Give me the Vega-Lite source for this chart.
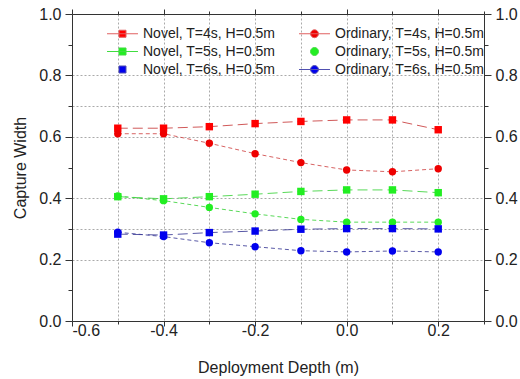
{
  "$schema": "https://vega.github.io/schema/vega-lite/v6.json",
  "width": 412,
  "height": 307,
  "autosize": {"type": "none"},
  "padding": {"left": 72, "top": 14, "right": 36, "bottom": 58},
  "background": "white",
  "config": {
    "view": {"stroke": null},
    "font": "Liberation Sans",
    "axis": {
      "labelFont": "Liberation Sans",
      "titleFont": "Liberation Sans",
      "labelFontSize": 16,
      "titleFontSize": 16,
      "titleFontWeight": "normal",
      "labelColor": "#222",
      "titleColor": "#222",
      "domainColor": "#333",
      "tickColor": "#333",
      "domainWidth": 1,
      "tickWidth": 1
    }
  },
  "data": {
    "values": [
      {"x": -0.5, "y": 0.628, "series": "Novel, T=4s, H=0.5m", "type": "Novel"},
      {"x": -0.4, "y": 0.628, "series": "Novel, T=4s, H=0.5m", "type": "Novel"},
      {"x": -0.3, "y": 0.633, "series": "Novel, T=4s, H=0.5m", "type": "Novel"},
      {"x": -0.2, "y": 0.643, "series": "Novel, T=4s, H=0.5m", "type": "Novel"},
      {"x": -0.1, "y": 0.650, "series": "Novel, T=4s, H=0.5m", "type": "Novel"},
      {"x": 0.0, "y": 0.655, "series": "Novel, T=4s, H=0.5m", "type": "Novel"},
      {"x": 0.1, "y": 0.655, "series": "Novel, T=4s, H=0.5m", "type": "Novel"},
      {"x": 0.2, "y": 0.623, "series": "Novel, T=4s, H=0.5m", "type": "Novel"},
      {"x": -0.5, "y": 0.610, "series": "Ordinary, T=4s, H=0.5m", "type": "Ordinary"},
      {"x": -0.4, "y": 0.610, "series": "Ordinary, T=4s, H=0.5m", "type": "Ordinary"},
      {"x": -0.3, "y": 0.579, "series": "Ordinary, T=4s, H=0.5m", "type": "Ordinary"},
      {"x": -0.2, "y": 0.545, "series": "Ordinary, T=4s, H=0.5m", "type": "Ordinary"},
      {"x": -0.1, "y": 0.516, "series": "Ordinary, T=4s, H=0.5m", "type": "Ordinary"},
      {"x": 0.0, "y": 0.492, "series": "Ordinary, T=4s, H=0.5m", "type": "Ordinary"},
      {"x": 0.1, "y": 0.486, "series": "Ordinary, T=4s, H=0.5m", "type": "Ordinary"},
      {"x": 0.2, "y": 0.496, "series": "Ordinary, T=4s, H=0.5m", "type": "Ordinary"},
      {"x": -0.5, "y": 0.405, "series": "Novel, T=5s, H=0.5m", "type": "Novel"},
      {"x": -0.4, "y": 0.398, "series": "Novel, T=5s, H=0.5m", "type": "Novel"},
      {"x": -0.3, "y": 0.405, "series": "Novel, T=5s, H=0.5m", "type": "Novel"},
      {"x": -0.2, "y": 0.413, "series": "Novel, T=5s, H=0.5m", "type": "Novel"},
      {"x": -0.1, "y": 0.422, "series": "Novel, T=5s, H=0.5m", "type": "Novel"},
      {"x": 0.0, "y": 0.427, "series": "Novel, T=5s, H=0.5m", "type": "Novel"},
      {"x": 0.1, "y": 0.427, "series": "Novel, T=5s, H=0.5m", "type": "Novel"},
      {"x": 0.2, "y": 0.418, "series": "Novel, T=5s, H=0.5m", "type": "Novel"},
      {"x": -0.5, "y": 0.407, "series": "Ordinary, T=5s, H=0.5m", "type": "Ordinary"},
      {"x": -0.4, "y": 0.392, "series": "Ordinary, T=5s, H=0.5m", "type": "Ordinary"},
      {"x": -0.3, "y": 0.370, "series": "Ordinary, T=5s, H=0.5m", "type": "Ordinary"},
      {"x": -0.2, "y": 0.349, "series": "Ordinary, T=5s, H=0.5m", "type": "Ordinary"},
      {"x": -0.1, "y": 0.331, "series": "Ordinary, T=5s, H=0.5m", "type": "Ordinary"},
      {"x": 0.0, "y": 0.322, "series": "Ordinary, T=5s, H=0.5m", "type": "Ordinary"},
      {"x": 0.1, "y": 0.322, "series": "Ordinary, T=5s, H=0.5m", "type": "Ordinary"},
      {"x": 0.2, "y": 0.322, "series": "Ordinary, T=5s, H=0.5m", "type": "Ordinary"},
      {"x": -0.5, "y": 0.283, "series": "Novel, T=6s, H=0.5m", "type": "Novel"},
      {"x": -0.4, "y": 0.280, "series": "Novel, T=6s, H=0.5m", "type": "Novel"},
      {"x": -0.3, "y": 0.288, "series": "Novel, T=6s, H=0.5m", "type": "Novel"},
      {"x": -0.2, "y": 0.293, "series": "Novel, T=6s, H=0.5m", "type": "Novel"},
      {"x": -0.1, "y": 0.299, "series": "Novel, T=6s, H=0.5m", "type": "Novel"},
      {"x": 0.0, "y": 0.301, "series": "Novel, T=6s, H=0.5m", "type": "Novel"},
      {"x": 0.1, "y": 0.301, "series": "Novel, T=6s, H=0.5m", "type": "Novel"},
      {"x": 0.2, "y": 0.300, "series": "Novel, T=6s, H=0.5m", "type": "Novel"},
      {"x": -0.5, "y": 0.289, "series": "Ordinary, T=6s, H=0.5m", "type": "Ordinary"},
      {"x": -0.4, "y": 0.275, "series": "Ordinary, T=6s, H=0.5m", "type": "Ordinary"},
      {"x": -0.3, "y": 0.255, "series": "Ordinary, T=6s, H=0.5m", "type": "Ordinary"},
      {"x": -0.2, "y": 0.242, "series": "Ordinary, T=6s, H=0.5m", "type": "Ordinary"},
      {"x": -0.1, "y": 0.229, "series": "Ordinary, T=6s, H=0.5m", "type": "Ordinary"},
      {"x": 0.0, "y": 0.225, "series": "Ordinary, T=6s, H=0.5m", "type": "Ordinary"},
      {"x": 0.1, "y": 0.228, "series": "Ordinary, T=6s, H=0.5m", "type": "Ordinary"},
      {"x": 0.2, "y": 0.225, "series": "Ordinary, T=6s, H=0.5m", "type": "Ordinary"}
    ]
  },
  "layer": [
    {
      "mark": {"type": "line", "strokeWidth": 1, "opacity": 0.85},
      "encoding": {
        "x": {
          "field": "x", "type": "quantitative",
          "scale": {"domain": [-0.6, 0.3], "nice": false, "zero": false},
          "axis": {
            "orient": "bottom",
            "title": "Deployment Depth (m)",
            "titlePadding": 21,
            "values": [-0.6, -0.5, -0.4, -0.3, -0.2, -0.1, 0, 0.1, 0.2, 0.3],
            "labelExpr": "round(datum.value*10)%2==0 ? replace(format(datum.value,'.1f'),'\u2212','-') : ''",
            "tickSize": {"condition": {"test": "round(datum.value*10)%2==0", "value": 5}, "value": 3},
            "labelPadding": -4,
            "grid": true,
            "gridDash": [2, 2],
            "gridColor": "#aaaaaa",
            "gridOpacity": {"condition": {"test": "abs(round(datum.value*10))==6 || round(datum.value*10)==3", "value": 0}, "value": 1}
          }
        },
        "y": {
          "field": "y", "type": "quantitative",
          "scale": {"domain": [0, 1], "nice": false},
          "axis": {
            "orient": "left",
            "title": "Capture Width",
            "titlePadding": 10,
            "values": [0, 0.1, 0.2, 0.3, 0.4, 0.5, 0.6, 0.7, 0.8, 0.9, 1.0],
            "labelExpr": "round(datum.value*10)%2==0 ? format(datum.value,'.1f') : ''",
            "tickSize": {"condition": {"test": "round(datum.value*10)%2==0", "value": 7}, "value": 4},
            "labelPadding": 4,
            "grid": true,
            "gridDash": [2, 2],
            "gridColor": "#aaaaaa",
            "gridOpacity": {"condition": {"test": "round(datum.value*10)==2 || round(datum.value*10)==3 || round(datum.value*10)==4 || round(datum.value*10)==6 || round(datum.value*10)==7 || round(datum.value*10)==8", "value": 1}, "value": 0}
          }
        },
        "color": {
          "field": "series", "type": "nominal",
          "scale": {
            "domain": ["Novel, T=4s, H=0.5m", "Novel, T=5s, H=0.5m", "Novel, T=6s, H=0.5m", "Ordinary, T=4s, H=0.5m", "Ordinary, T=5s, H=0.5m", "Ordinary, T=6s, H=0.5m"],
            "range": ["#c83c3c", "#3cd23c", "#3c3c96", "#d04848", "#3cd23c", "#3c3c96"]
          },
          "legend": null
        },
        "strokeDash": {
          "field": "type", "type": "nominal",
          "scale": {"domain": ["Novel", "Ordinary"], "range": [[10, 5], [4, 3]]},
          "legend": null
        },
        "detail": {"field": "series"}
      }
    },
    {
      "mark": {"type": "point", "filled": true, "opacity": 1, "size": 55},
      "encoding": {
        "x": {
          "field": "x", "type": "quantitative",
          "scale": {"domain": [-0.6, 0.3], "nice": false, "zero": false},
          "axis": {
            "orient": "top",
            "title": null,
            "labels": false,
            "values": [-0.6, -0.5, -0.4, -0.3, -0.2, -0.1, 0, 0.1, 0.2, 0.3],
            "tickSize": {"condition": {"test": "round(datum.value*10)%2==0", "value": 5}, "value": 3},
            "grid": false
          }
        },
        "y": {
          "field": "y", "type": "quantitative",
          "scale": {"domain": [0, 1], "nice": false},
          "axis": {
            "orient": "right",
            "title": null,
            "values": [0, 0.1, 0.2, 0.3, 0.4, 0.5, 0.6, 0.7, 0.8, 0.9, 1.0],
            "labelExpr": "round(datum.value*10)%2==0 ? format(datum.value,'.1f') : ''",
            "tickSize": {"condition": {"test": "round(datum.value*10)%2==0", "value": 7}, "value": 4},
            "labelPadding": 4,
            "grid": false
          }
        },
        "color": {
          "field": "series", "type": "nominal",
          "scale": {
            "domain": ["Novel, T=4s, H=0.5m", "Novel, T=5s, H=0.5m", "Novel, T=6s, H=0.5m", "Ordinary, T=4s, H=0.5m", "Ordinary, T=5s, H=0.5m", "Ordinary, T=6s, H=0.5m"],
            "range": ["#ff0000", "#22ee22", "#0000ee", "#ee0000", "#22ee22", "#0000ee"]
          },
          "legend": {
            "title": null,
            "orient": "none",
            "legendX": 41,
            "legendY": 10,
            "columns": 2,
            "columnPadding": 21,
            "rowPadding": 1,
            "padding": 0,
            "symbolSize": 324,
            "symbolStrokeWidth": 1,
            "symbolOpacity": 1,
            "labelOffset": 11,
            "labelFont": "Liberation Sans",
            "labelFontSize": 14,
            "labelColor": "#222",
            "labelLimit": 300,
            "encode": {
              "symbols": {
                "update": {
                  "shape": {"signal": "datum.value=='Novel, T=6s, H=0.5m' ? 'M-0.39,-0.39H0.39V0.39H-0.39Z' : datum.value=='Ordinary, T=5s, H=0.5m' ? 'M0.44,0A0.44,0.44,0,1,1,-0.44,0A0.44,0.44,0,1,1,0.44,0Z' : (datum.value=='Novel, T=4s, H=0.5m' || datum.value=='Novel, T=5s, H=0.5m') ? 'M-1.72,0H1.72M-0.39,-0.39H0.39V0.39H-0.39Z' : 'M-1.72,0H1.72M0.44,0A0.44,0.44,0,1,1,-0.44,0A0.44,0.44,0,1,1,0.44,0Z'"},
                  "stroke": {"signal": "(datum.value=='Novel, T=4s, H=0.5m' || datum.value=='Ordinary, T=4s, H=0.5m') ? '#e06060' : (datum.value=='Novel, T=5s, H=0.5m' || datum.value=='Ordinary, T=5s, H=0.5m') ? '#40dd40' : '#5050b0'"},
                  "strokeWidth": {"value": 1}
                }
              }
            }
          }
        },
        "shape": {
          "field": "type", "type": "nominal",
          "scale": {"domain": ["Novel", "Ordinary"], "range": ["square", "circle"]},
          "legend": null
        }
      }
    }
  ],
  "resolve": {
    "scale": {"color": "independent"},
    "axis": {"x": "independent", "y": "independent"}
  }
}
